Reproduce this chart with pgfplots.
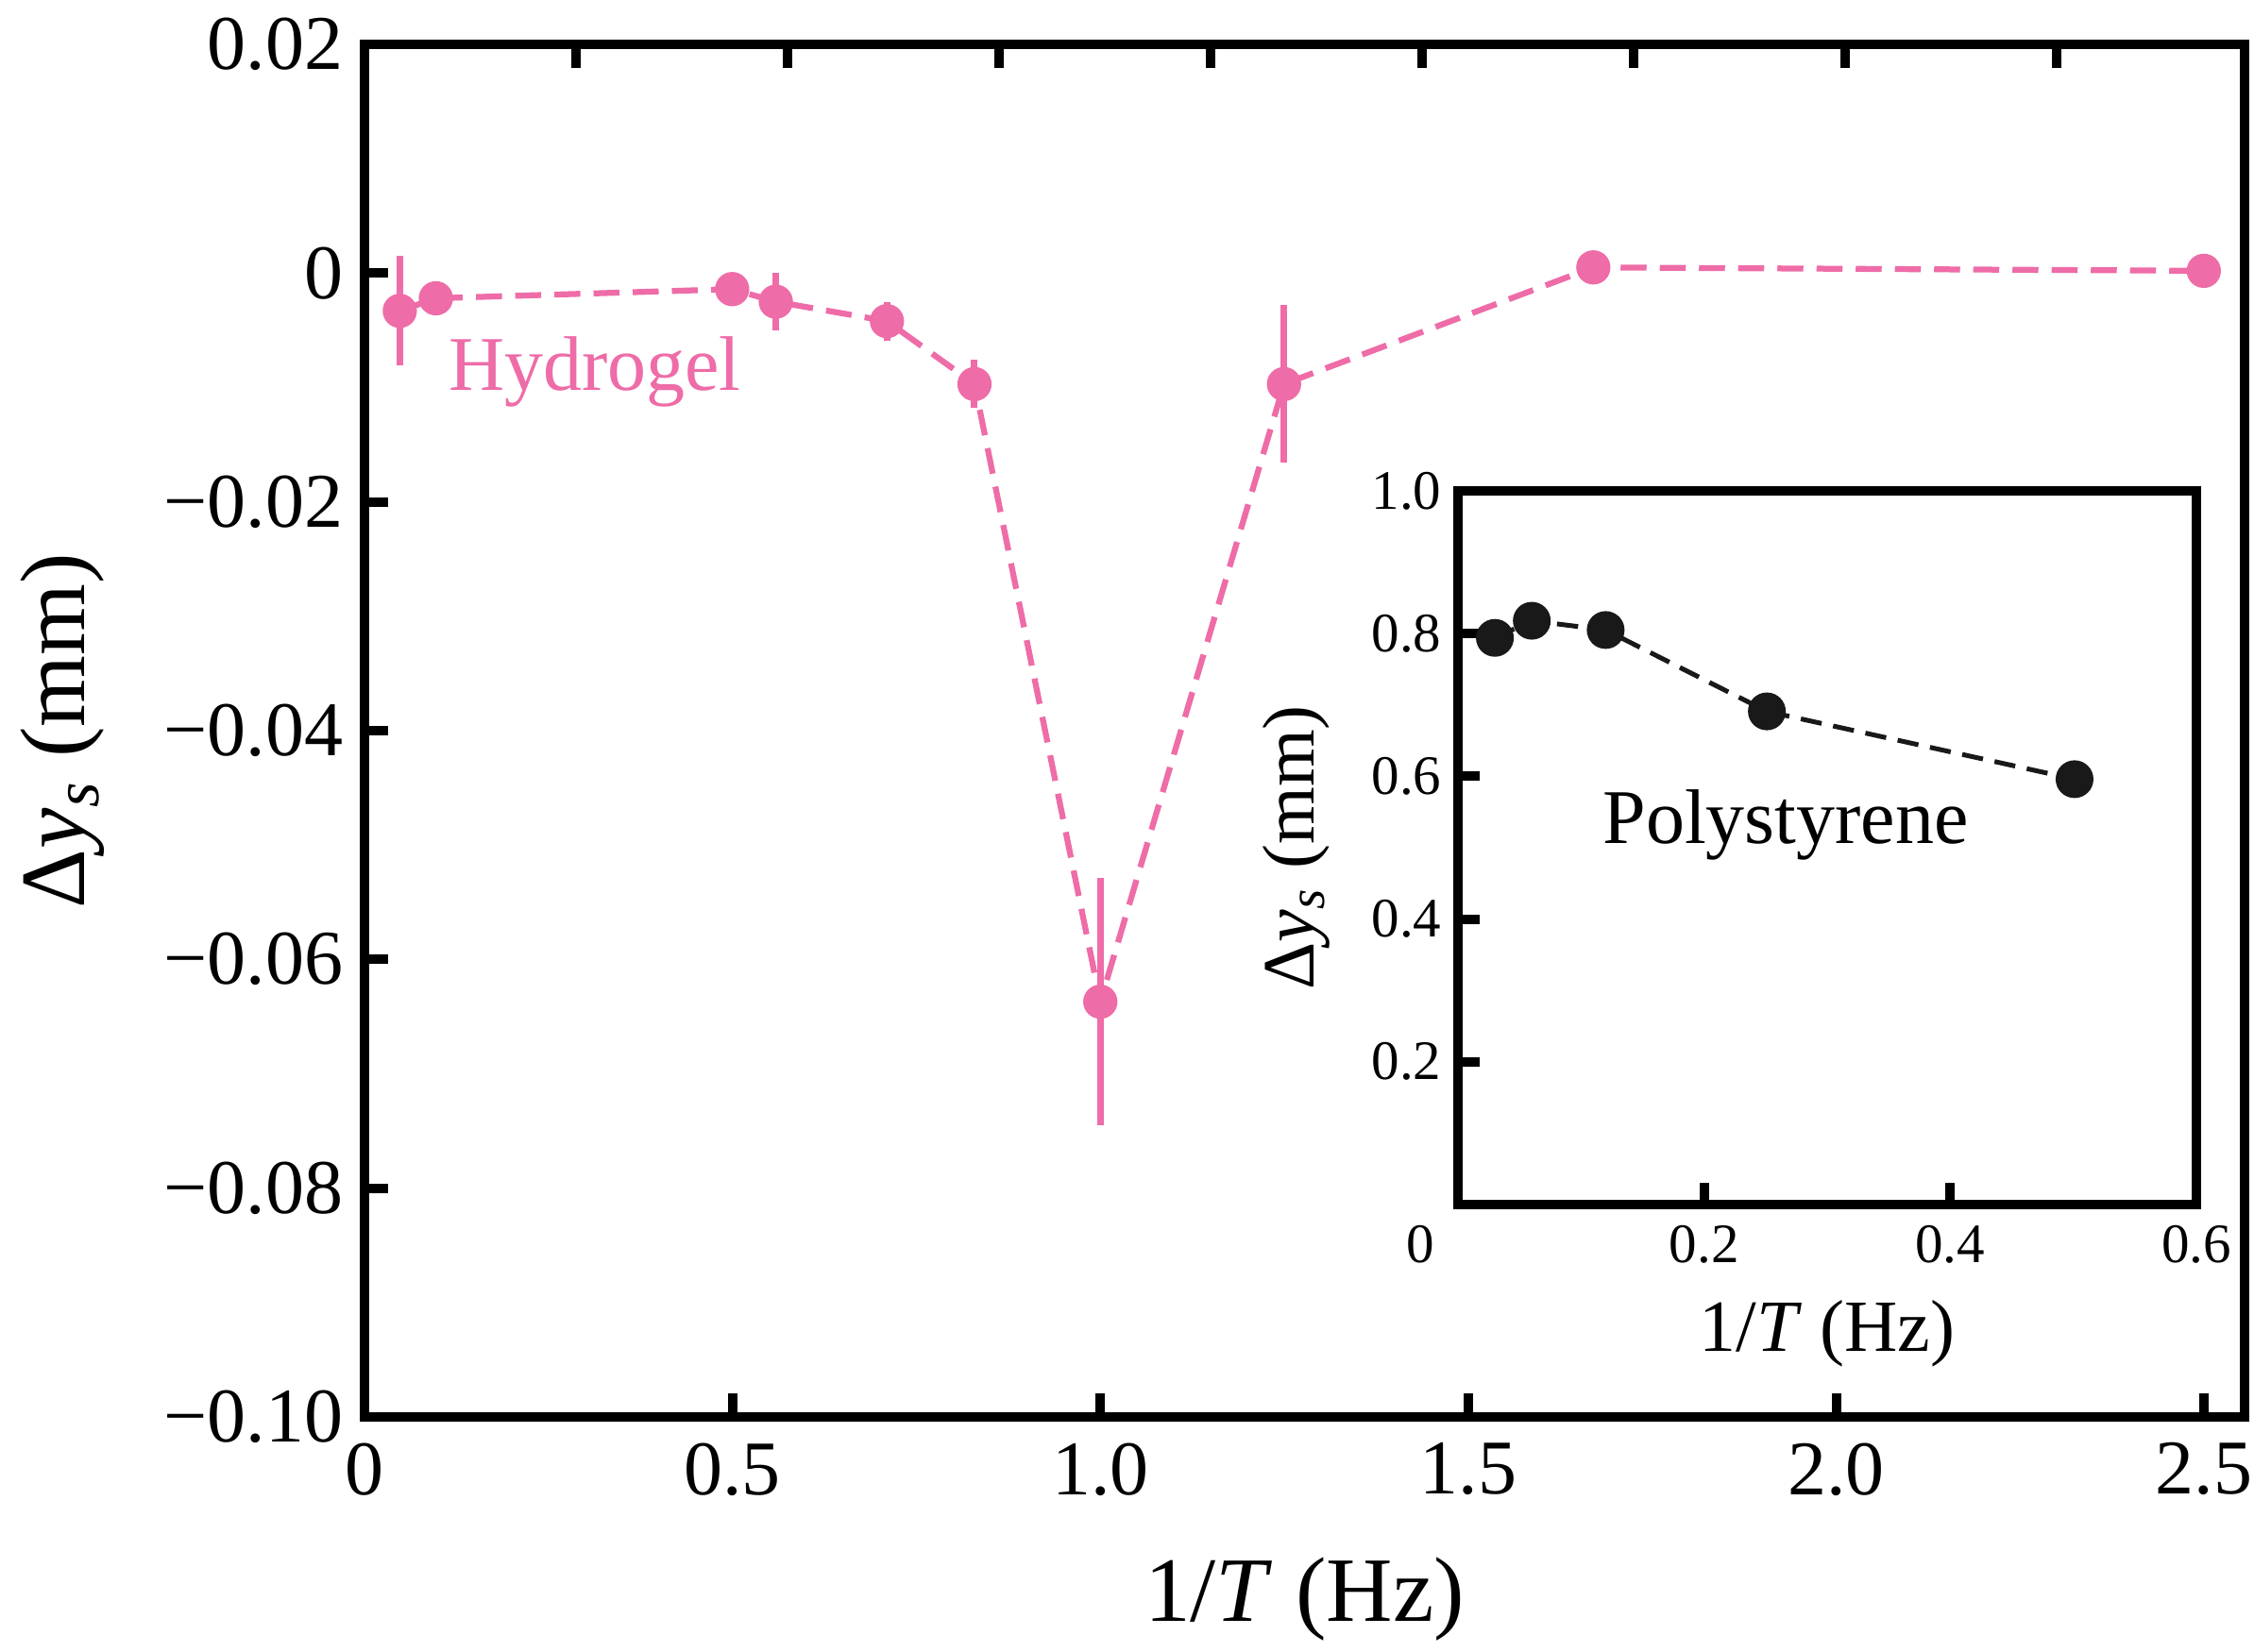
\documentclass[border=0pt]{standalone}
\usepackage{pgfplots}
\pgfplotsset{compat=1.18}
\usepackage{fontspec}
\setmainfont{Liberation Serif}
\definecolor{hpink}{RGB}{238,108,167}
\definecolor{inkblk}{RGB}{25,25,25}

\pgfplotstableread{
x      y        e
0.048  -0.0033  0.0048
0.097  -0.0022  0
0.4997 -0.0014  0
0.559  -0.0025  0.0025
0.710  -0.0042  0.0017
0.829  -0.0097  0.0021
1.000  -0.0637  0.0108
1.2496 -0.0097  0.0069
1.670   0.0005  0
2.4996  0.0002  0
}\hydrogel

\pgfplotstableread{
x     y
0.030 0.794
0.060 0.818
0.120 0.805
0.251 0.691
0.501 0.596
}\polystyrene

\begin{document}
\begin{tikzpicture}
\useasboundingbox (-77.2pt,-49.8pt) rectangle (400.2pt,300.2pt);
% main axis
\begin{axis}[
  at={(0pt,0pt)}, anchor=south west,
  scale only axis, width=398.2pt, height=290.8pt,
  xmin=0, xmax=2.555, ymin=-0.1, ymax=0.02,
  axis line style={line width=2.1pt},
  tick align=inside,
  major tick length=5pt,
  every tick/.style={line width=2pt, black},
  xtick pos=lower, ytick pos=left,
  xtick={0,0.5,1.0,1.5,2.0,2.5},
  xticklabels={0,0.5,1.0,1.5,2.0,2.5},
  ytick={0.02,0,-0.02,-0.04,-0.06,-0.08,-0.10},
  yticklabels={0.02,0,−0.02,−0.04,−0.06,−0.08,−0.10},
  tick label style={font=\fontsize{16.4}{19}\selectfont},
  xticklabel style={yshift=-2pt},
  yticklabel style={xshift=-1pt},
  xlabel={1/\textit{T} (Hz)},
  ylabel={Δ\textit{y}\textsubscript{\textit{s}} (mm)},
  label style={font=\fontsize{19.5}{23}\selectfont},
  xlabel style={at={(axis description cs:0.5,-0.1325)}, anchor=center},
  ylabel style={at={(axis description cs:-0.1607,0.5)}, anchor=center},
  clip=false,
]
\addplot[color=hpink, line width=1.25pt, dash pattern=on 5.5pt off 2.8pt,
  mark=*, mark size=3pt, mark options={solid, fill=hpink, draw=hpink},
  error bars/.cd, y dir=both, y explicit,
  error bar style={line width=1.4pt, solid, hpink}, error mark=none]
  table[x=x, y=y, y error=e] {\hydrogel};
\node[anchor=west, text=hpink, font=\fontsize{16.4}{19}\selectfont, inner sep=0pt]
  at (axis cs:0.113,-0.0086) {Hydrogel};
\end{axis}
% top ticks of the main frame
\begin{axis}[
  at={(0pt,0pt)}, anchor=south west,
  scale only axis, width=398.2pt, height=290.8pt,
  xmin=0, xmax=2.555, ymin=-0.1, ymax=0.02,
  axis line style={line width=2.1pt},
  tick align=inside,
  major tick length=5pt,
  every tick/.style={line width=2pt, black},
  xtick pos=upper, ytick=\empty,
  xtick={0.2874,0.5748,0.8622,1.1496,1.437,1.7244,2.0118,2.2992},
  xticklabels={},
]
\addplot[draw=none] coordinates {(0,0)};
\end{axis}
% inset
\begin{axis}[
  at={(231.6pt,45pt)}, anchor=south west,
  scale only axis, width=156.4pt, height=151.2pt,
  xmin=0, xmax=0.6, ymin=0, ymax=1.0,
  axis background/.style={fill=white},
  axis line style={line width=1.9pt},
  tick align=inside,
  major tick length=4.5pt,
  every tick/.style={line width=2pt, black},
  xtick pos=lower, ytick pos=left,
  xtick={0,0.2,0.4,0.6},
  xticklabels={\makebox[0pt][c]{\kern-16pt 0},0.2,0.4,0.6},
  ytick={0,0.2,0.4,0.6,0.8,1.0},
  yticklabels={,0.2,0.4,0.6,0.8,1.0},
  tick label style={font=\fontsize{11.8}{14}\selectfont},
  xticklabel style={yshift=-1pt},
  xlabel={1/\textit{T} (Hz)},
  ylabel={Δ\textit{y}\textsubscript{\textit{s}} (mm)},
  label style={font=\fontsize{15.6}{18}\selectfont},
  xlabel style={at={(axis description cs:0.5,-0.181)}, anchor=center},
  ylabel style={at={(axis description cs:-0.219,0.5)}, anchor=center},
  clip=false,
]
\addplot[color=inkblk, line width=1pt, dash pattern=on 4.5pt off 2.5pt,
  mark=*, mark size=3.5pt, mark options={solid, fill=inkblk, draw=inkblk}]
  table[x=x, y=y] {\polystyrene};
\node[anchor=west, font=\fontsize{16.4}{19}\selectfont, inner sep=0pt]
  at (axis cs:0.117,0.532) {Polystyrene};
\end{axis}
\end{tikzpicture}
\end{document}
